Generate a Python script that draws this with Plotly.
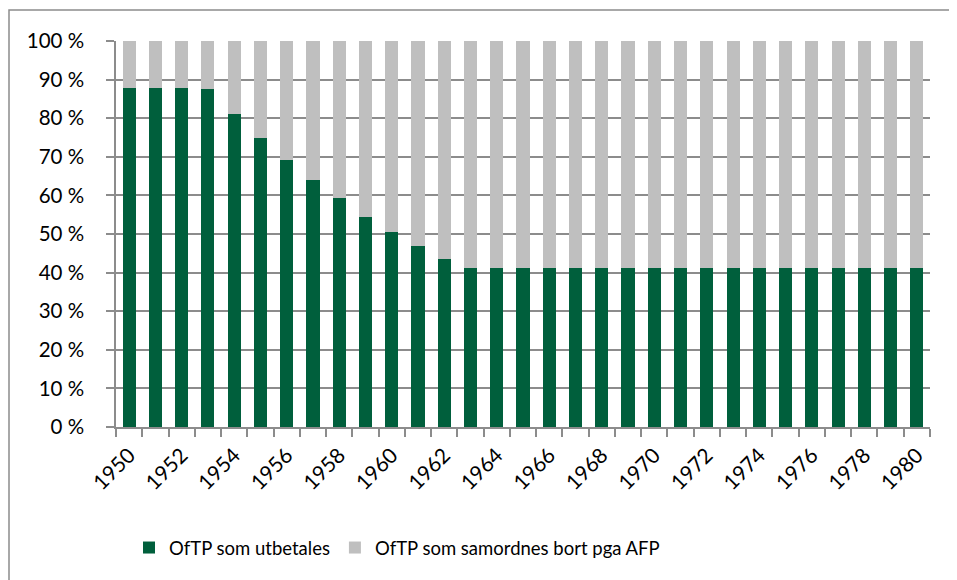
import plotly.graph_objects as go

years = list(range(1950, 1981))
utbetales = [87.8, 87.7, 87.7, 87.5, 81.1, 75.0, 69.3, 64.1, 59.2, 54.5, 50.5, 46.8, 43.4] + [41.2] * 18
samordnes = [100 - v for v in utbetales]
tick_years = list(range(1950, 1981, 2))
y_ticks = list(range(0, 101, 10))
y_labels = [f"{v} %" for v in y_ticks]

GREEN = "#005f3c"
GREY = "#bfbfbf"
FONT = "Lato, Carlito, Calibri, sans-serif"

# page body has an 8px margin; figure is placed at (8, 8)
L, T, R, B = 108, 33, 27, 153
W, H = 949, 572
PW, PH = W - L - R, H - T - B

fig = go.Figure()
fig.add_bar(x=years, y=utbetales, name="OfTP som utbetales", marker_color=GREEN,
            marker_line_width=0, width=0.5)
fig.add_bar(x=years, y=samordnes, name="OfTP som samordnes bort pga AFP", marker_color=GREY,
            marker_line_width=0, width=0.5)

fig.update_layout(
    barmode="stack",
    width=W, height=H,
    margin=dict(l=L, r=R, t=T, b=B, autoexpand=False),
    paper_bgcolor="white", plot_bgcolor="white",
    font=dict(family=FONT, size=21, color="black"),
    showlegend=True,
    legend=dict(orientation="h", x=(129 - 116) / PW, xanchor="left",
                y=-(548 - 427) / PH, yanchor="middle",
                font=dict(size=18.5), traceorder="normal"),
)
fig.update_xaxes(
    range=[1949.5, 1980.5], tickmode="array", tickvals=tick_years,
    ticktext=[str(y) for y in tick_years], tickangle=-45, ticks="",
    tickfont=dict(size=21),
    showline=True, linecolor="#8c8c8c", linewidth=1.5, showgrid=False, zeroline=False,
    minor=dict(tickmode="array", tickvals=[y - 0.5 for y in years] + [1980.5],
               ticks="outside", ticklen=8, tickcolor="#8c8c8c", tickwidth=1.5, showgrid=False),
    ticklabelstandoff=6,
)
fig.update_yaxes(
    range=[0, 100], tickmode="array", tickvals=y_ticks, ticktext=y_labels,
    tickfont=dict(size=20.5),
    ticks="outside", ticklen=8, tickcolor="#8c8c8c", tickwidth=1.5,
    showline=True, linecolor="#8c8c8c", linewidth=1.5,
    showgrid=True, gridcolor="#8c8c8c", gridwidth=1.5, zeroline=False,
    ticklabelstandoff=18,
)
# outer chart border (right and bottom edges fall outside the picture)
fig.add_shape(type="rect", xref="paper", yref="paper",
              x0=(-L + 1) / PW, x1=(W - L + 40) / PW,
              y0=-(H - T - PH + 40) / PH, y1=(PH + T - 2) / PH,
              line=dict(color="#8c8c8c", width=1.5), layer="below")

fig.write_html("out.html")
